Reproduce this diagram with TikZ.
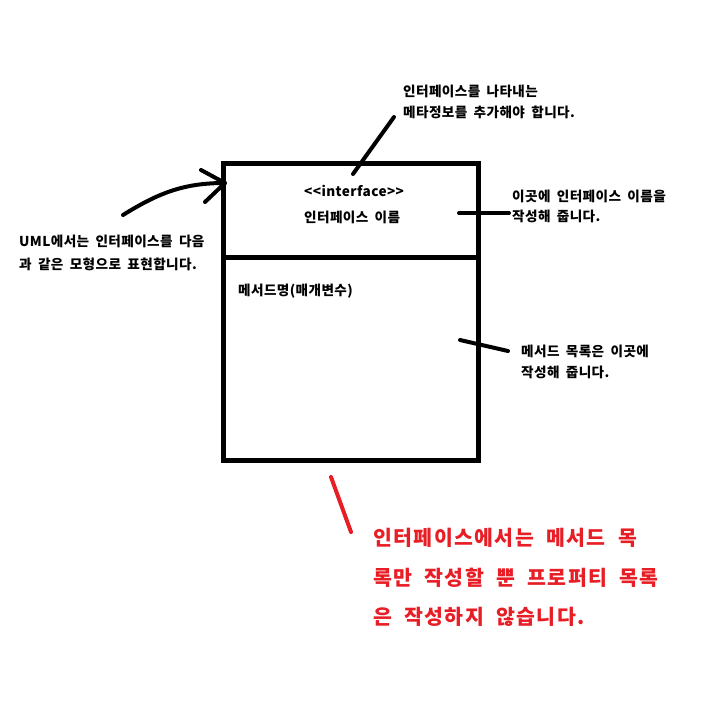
\documentclass[tikz,border=0pt]{standalone}
\usepackage{fontspec}
\setmainfont{Noto Sans CJK KR}
\newfontfamily\krsmall{Noto Sans CJK KR}[LetterSpace=3,WordSpace=1.8]
\newfontfamily\krbig{Noto Sans CJK KR}[LetterSpace=7,WordSpace=2]
\definecolor{paintred}{RGB}{232,30,38}
\begin{document}
\begin{tikzpicture}[x=1pt,y=-1pt,
  lbl/.style={anchor=base west,inner sep=0pt,font=\krsmall\fontsize{13.6}{15}\selectfont\bfseries},
  redlbl/.style={anchor=base west,inner sep=0pt,text=paintred,font=\krbig\fontsize{20.5}{24}\selectfont\bfseries},
  boxline/.style={line width=4.5pt},
  pen/.style={line width=4pt,line cap=round,line join=round}]
\useasboundingbox (0,0) rectangle (720,720);
% UML box
\node[boxline,draw,minimum width=255pt,minimum height=94pt,anchor=north west,inner sep=0pt] (head) at (221,161) {};
\node[boxline,draw,minimum width=255pt,minimum height=203pt,anchor=north west,inner sep=0pt] (body) at (221,255) {};
% texts in box
\node[lbl] (stereo) at (304,196) {{<}{<}interface{>}{>}};
\node[lbl] (iname) at (304,222) {인터페이스 이름};
\node[lbl] (mname) at (238,295) {메서드명(매개변수)};
% annotations
\node[lbl] (a1) at (403,96) {인터페이스를 나타내는};
\node[lbl] (a2) at (403,117) {메타정보를 추가해야 합니다.};
\node[lbl] (b1) at (512,201) {이곳에 인터페이스 이름을};
\node[lbl] (b2) at (512,221) {작성해 줍니다.};
\node[lbl] (c1) at (19,246) {UML에서는 인터페이스를 다음};
\node[lbl] (c2) at (19,269) {과 같은 모형으로 표현합니다.};
\node[lbl] (d1) at (521,356) {메서드 목록은 이곳에};
\node[lbl] (d2) at (521,377) {작성해 줍니다.};
\node[redlbl] (e1) at (373,545) {인터페이스에서는 메서드 목};
\node[redlbl] (e2) at (373,585) {록만 작성할 뿐 프로퍼티 목록};
\node[redlbl] (e3) at (373,624) {은 작성하지 않습니다.};
% pointer lines
\coordinate (p1s) at (123,215);
\coordinate (p1e) at (225,183);
\coordinate (h1) at (201,170);
\coordinate (h2) at (205,202);
\draw[pen] (p1s) .. controls (160,192) and (185,183) .. (p1e);
\draw[pen] (h1) -- (p1e) -- (h2);
\coordinate (p2s) at (394,117);
\coordinate (p2e) at (353,174);
\draw[pen] (p2s) -- (p2e);
\coordinate (p3s) at (459,213);
\coordinate (p3e) at (509,213);
\draw[pen] (p3s) -- (p3e);
\coordinate (p4s) at (460,340);
\coordinate (p4e) at (508,351);
\draw[pen] (p4s) -- (p4e);
\coordinate (p5s) at (331,477);
\coordinate (p5e) at (351,532);
\draw[pen,paintred] (p5s) -- (p5e);
\end{tikzpicture}
\end{document}
